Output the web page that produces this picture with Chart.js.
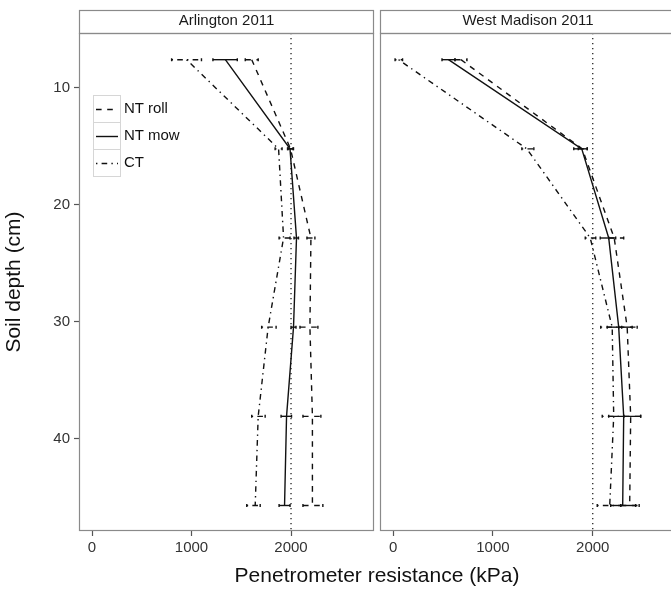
<!DOCTYPE html>
<html>
<head>
<meta charset="utf-8">
<script src="https://cdn.jsdelivr.net/npm/chart.js@4.4.1/dist/chart.umd.min.js"></script>
<style>
  html, body { margin:0; padding:0; background:#fff; width:671px; height:592px; overflow:hidden; position:relative; }
  canvas { position:absolute; top:0; }
  #c1 { left:0; }
  #c2 { left:376px; }
  #xtitle { position:absolute; left:0; width:754px; top:563px; text-align:center; font-family:"Liberation Sans", Arial, sans-serif; font-size:21px; color:#111; }
  #legend { position:absolute; left:93px; top:95px; font-family:"Liberation Sans", Arial, sans-serif; font-size:15px; color:#111; }
  .row { position:relative; height:27px; }
  .key { position:absolute; left:0; top:0; width:26px; height:26px; border:1px solid #d6d6d6; background:#fff; }
  .lab { position:absolute; left:31px; top:4px; white-space:nowrap; }
</style>
</head>
<body>
<canvas id="c1" width="376" height="592"></canvas>
<canvas id="c2" width="300" height="592"></canvas>
<div id="legend">
  <div class="row"><div class="key"><svg width="26" height="26"><line x1="2" y1="13.5" x2="24" y2="13.5" stroke="#111" stroke-width="1.4" stroke-dasharray="5.6,5.6"/></svg></div><div class="lab">NT roll</div></div>
  <div class="row"><div class="key"><svg width="26" height="26"><line x1="2" y1="13.5" x2="24" y2="13.5" stroke="#111" stroke-width="1.4"/></svg></div><div class="lab">NT mow</div></div>
  <div class="row"><div class="key"><svg width="26" height="26"><line x1="2" y1="13.5" x2="24" y2="13.5" stroke="#111" stroke-width="1.4" stroke-dasharray="1.4,4.2,5.6,4.2"/></svg></div><div class="lab">CT</div></div>
</div>
<div id="xtitle">Penetrometer resistance (kPa)</div>
<script>
// ---------- data ----------
const depths = [7.62, 15.24, 22.86, 30.48, 38.1, 45.72];
const seriesNames = ["NT roll", "NT mow", "CT"];
const panelTitles = ["Arlington 2011", "West Madison 2011"];
const xTicks = [0, 1000, 2000];
const yTicks = [10, 20, 30, 40];
const refLine = [2000];

// Arlington 2011
const arlRoll   = [1605, 1995, 2200, 2190, 2215, 2215];
const arlRollLo = [1540, 1970, 2160, 2090, 2120, 2120];
const arlRollHi = [1670, 2025, 2240, 2270, 2300, 2320];
const arlMow    = [1340, 1990, 2055, 2025, 1955, 1935];
const arlMowLo  = [1215, 1965, 2030, 2000, 1900, 1880];
const arlMowHi  = [1460, 2020, 2075, 2050, 2005, 1990];
const arlCT     = [950, 1875, 1925, 1770, 1670, 1640];
const arlCTLo   = [800, 1840, 1880, 1705, 1605, 1555];
const arlCTHi   = [1100, 1910, 1990, 1850, 1740, 1690];

// West Madison 2011
const wmRoll   = [680, 1895, 2215, 2345, 2380, 2370];
const wmRollLo = [620, 1855, 2160, 2260, 2310, 2280];
const wmRollHi = [740, 1945, 2310, 2445, 2480, 2465];
const wmMow    = [555, 1890, 2160, 2260, 2310, 2300];
const wmMowLo  = [490, 1810, 2075, 2145, 2160, 2180];
const wmMowHi  = [620, 1945, 2230, 2395, 2480, 2430];
const wmCT     = [55, 1340, 1975, 2195, 2210, 2170];
const wmCTLo   = [20, 1290, 1925, 2080, 2095, 2045];
const wmCTHi   = [95, 1410, 2030, 2290, 2310, 2280];

const xMin = -131, xMax = 2834;
const yMin = 5.34, yMax = 47.9;

// ---------- styles ----------
const dashes = [[5.6, 5.6], [], [1.4, 4.2, 5.6, 4.2]];
const LINE = '#111';
const BORDER = '#8a8a8a';
const FONT = '"Liberation Sans", Arial, sans-serif';

function toPts(vals) { return vals.map((v, i) => ({ x: v, y: depths[i] })); }

const panelPlugin = {
  id: 'panelDeco',
  beforeDatasetsDraw(chart) {
    const { ctx, chartArea: a, scales } = chart;
    ctx.save();
    ctx.strokeStyle = '#222';
    ctx.lineWidth = 1.3;
    ctx.setLineDash([1.3, 3.7]);
    refLine.forEach(v => {
      const x = scales.x.getPixelForValue(v);
      ctx.beginPath(); ctx.moveTo(x, a.top); ctx.lineTo(x, a.bottom); ctx.stroke();
    });
    ctx.restore();
  },
  afterDatasetsDraw(chart) {
    const { ctx, chartArea: a, scales } = chart;
    const err = chart.options.plugins.panelDeco.err;
    ctx.save();
    ctx.beginPath(); ctx.rect(a.left, a.top, a.right - a.left, a.bottom - a.top); ctx.clip();
    ctx.strokeStyle = LINE;
    ctx.lineWidth = 1.4;
    err.forEach((e, si) => {
      depths.forEach((d, j) => {
        const y = scales.y.getPixelForValue(d);
        const x1 = scales.x.getPixelForValue(e.lo[j]);
        const x2 = scales.x.getPixelForValue(e.hi[j]);
        ctx.setLineDash(dashes[si]);
        ctx.beginPath(); ctx.moveTo(x1, y); ctx.lineTo(x2, y); ctx.stroke();
        ctx.setLineDash([]);
        ctx.beginPath();
        ctx.moveTo(x1, y - 1.5); ctx.lineTo(x1, y + 1.5);
        ctx.moveTo(x2, y - 1.5); ctx.lineTo(x2, y + 1.5);
        ctx.stroke();
      });
    });
    ctx.restore();
  },
  afterDraw(chart) {
    const { ctx, chartArea: a } = chart;
    ctx.save();
    ctx.strokeStyle = BORDER;
    ctx.lineWidth = 1.2;
    ctx.strokeRect(a.left + 0.5, a.top + 0.5, a.right - a.left - 1, a.bottom - a.top - 1);
    ctx.strokeRect(a.left + 0.5, 10.5, a.right - a.left - 1, a.top - 10);
    ctx.restore();
  }
};

function makePanel(id, title, vals, errs, showY) {
  const datasets = vals.map((v, i) => ({
    label: seriesNames[i],
    data: toPts(v),
    borderColor: LINE,
    borderWidth: 1.4,
    borderDash: dashes[i],
    pointRadius: 0,
    tension: 0,
    fill: false
  }));
  return new Chart(document.getElementById(id), {
    type: 'line',
    data: { datasets },
    plugins: [panelPlugin],
    options: {
      responsive: false,
      animation: false,
      indexAxis: 'y',
      layout: { padding: { top: 10, bottom: 0, left: showY ? 0 : 4, right: showY ? 2 : 0 } },
      plugins: {
        legend: { display: false },
        tooltip: { enabled: false },
        title: {
          display: true, text: title, fullSize: false,
          color: '#1a1a1a', font: { family: FONT, size: 15, weight: 'normal' },
          padding: { top: 2, bottom: 3 }
        },
        panelDeco: { err: errs }
      },
      scales: {
        x: {
          type: 'linear', min: xMin, max: xMax,
          afterBuildTicks: s => { s.ticks = xTicks.map(v => ({ value: v })); },
          afterFit: s => { s.height = 61; },
          grid: { display: true, drawOnChartArea: false, drawTicks: true, tickLength: 5, color: '#555', tickWidth: 1.2 },
          border: { display: false },
          ticks: { color: '#333', font: { family: FONT, size: 15 }, padding: 3, maxRotation: 0, callback: v => String(v) }
        },
        y: {
          type: 'linear', reverse: true, min: yMin, max: yMax,
          display: showY,
          afterBuildTicks: s => { s.ticks = yTicks.map(v => ({ value: v })); },
          afterFit: s => { s.width = showY ? 79 : 0; },
          grid: { display: true, drawOnChartArea: false, drawTicks: true, tickLength: 5, color: '#555', tickWidth: 1.2 },
          border: { display: false },
          ticks: { color: '#333', font: { family: FONT, size: 15 }, padding: 4, callback: v => String(v) },
          title: { display: true, text: 'Soil depth (cm)', color: '#111', font: { family: FONT, size: 21 }, padding: { top: 2, bottom: 4 } }
        }
      }
    }
  });
}

makePanel('c1', panelTitles[0], [arlRoll, arlMow, arlCT],
  [{ lo: arlRollLo, hi: arlRollHi }, { lo: arlMowLo, hi: arlMowHi }, { lo: arlCTLo, hi: arlCTHi }], true);
makePanel('c2', panelTitles[1], [wmRoll, wmMow, wmCT],
  [{ lo: wmRollLo, hi: wmRollHi }, { lo: wmMowLo, hi: wmMowHi }, { lo: wmCTLo, hi: wmCTHi }], false);
</script>
</body>
</html>
